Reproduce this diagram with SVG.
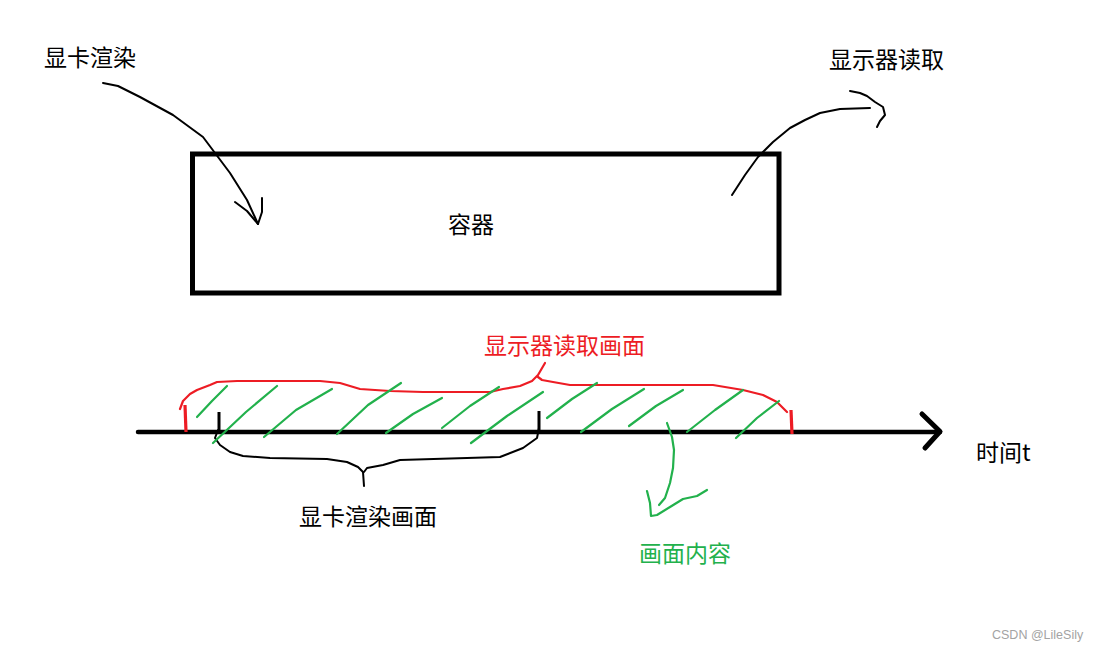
<svg xmlns="http://www.w3.org/2000/svg" width="1100" height="652" viewBox="0 0 1100 652">
  <style>
    .t { font-family: "Microsoft YaHei", "Noto Sans CJK SC", "Noto Sans", sans-serif; font-size: 23px; fill: #000; }
    .red { fill: #ed1c24; }
    .grn { fill: #22b14c; }
    .ink { fill: none; stroke: #000; stroke-width: 2; stroke-linecap: round; stroke-linejoin: round; }
    .rl { fill: none; stroke: #ed1c24; stroke-width: 2.2; stroke-linecap: round; stroke-linejoin: round; }
    .gl { fill: none; stroke: #22b14c; stroke-width: 2.2; stroke-linecap: round; stroke-linejoin: round; }
    .wm { font-family: "Liberation Sans", Arial, sans-serif; font-size: 12.5px; fill: #a3a3a3; }
  </style>
  <rect width="1100" height="652" fill="#fff"/>

  <g id="label-gpu">
    <text class="t" x="44" y="66">显卡渲染</text>
  </g>
  <g id="label-monitor">
    <text class="t" x="829" y="68">显示器读取</text>
  </g>
  <g id="container">
    <rect x="192.5" y="154" width="586.5" height="139" fill="none" stroke="#000" stroke-width="5"/>
    <text class="t" x="448" y="233">容器</text>
  </g>

  <g id="timeline">
    <path d="M138,432 L940,432" fill="none" stroke="#000" stroke-width="4.5" stroke-linecap="round"/>
    <path d="M922,414 L940,431.5 L925,448" fill="none" stroke="#000" stroke-width="5" stroke-linecap="round" stroke-linejoin="round"/>
    <path d="M219,412 L219,433" fill="none" stroke="#000" stroke-width="3"/>
    <path d="M539,411 L539,433" fill="none" stroke="#000" stroke-width="3"/>
    <text class="t" x="976" y="461">时间t</text>
  </g>

  <g id="monitor-read-brace">
    <path d="M185,405 L186,432" fill="none" stroke="#ed1c24" stroke-width="3.2"/>
    <path d="M791,410 L792,434" fill="none" stroke="#ed1c24" stroke-width="3.2"/>
    <path class="rl" d="M180,409 L183,401 L190,394 L197,390 L210,385 L217,382 L237,381 L320,381 L340,383 L360,389 L390,391 L423,392 L490,392 L503,389 L520,386 L532,381 L538,375 L545,363"/>
    <path class="rl" d="M538,377 L542,380 L553,382 L570,385 L713,385 L743,390 L763,395 L777,402 L787,412"/>
    <text class="t red" x="484" y="354">显示器读取画面</text>
  </g>

  <g id="gpu-render-brace">
    <path class="ink" d="M218,430 L215,438 L220,445 L230,452 L243,456 L270,458 L327,459 L347,462 L358,467 L363,472 L364,486"/>
    <path class="ink" d="M364,472 L367,468 L383,465 L400,460 L467,458 L500,457 L523,448 L537,438 L539,428"/>
    <text class="t" x="299" y="525">显卡渲染画面</text>
  </g>

  <g id="frame-content">
    <path class="gl" d="M197,417 L212,401 L227,386"/>
    <path class="gl" d="M213,443 L246,412 L277,386"/>
    <path class="gl" d="M264,437 L296,410 L332,389"/>
    <path class="gl" d="M337,434 L368,405 L401,383"/>
    <path class="gl" d="M386,433 L413,414 L442,398"/>
    <path class="gl" d="M442,428 L470,406 L499,387"/>
    <path class="gl" d="M471,443 L507,416 L543,392"/>
    <path class="gl" d="M547,418 L572,399 L597,383"/>
    <path class="gl" d="M581,432 L612,409 L644,389"/>
    <path class="gl" d="M629,426 L656,406 L683,390"/>
    <path class="gl" d="M687,432 L715,410 L743,390"/>
    <path class="gl" d="M736,438 L757,418 L779,401"/>
    <text class="t grn" x="639" y="562">画面内容</text>
  </g>

  <g id="connectors">
    <path class="ink" d="M103,83 L118,86 L140,97 L173,115 L203,137 L215,153 L230,173 L247,200 L258,224"/>
    <path class="ink" d="M235,202 L247,211 L258,224 L262,212 L262,198"/>
    <path class="ink" d="M732,195 L745,175 L758,157 L773,142 L790,128 L805,120 L820,113 L840,109 L870,108"/>
    <path class="ink" d="M850,91 L860,93 L867,96 L875,102 L883,107 L885,115 L880,121 L877,127"/>
    <path class="gl" d="M667,423 L672,437 L674,450 L673,468 L670,483 L665,498 L659,505"/>
    <path class="gl" d="M647,491 L650,503 L651,516 L657,515 L670,507 L683,499 L697,496 L707,490"/>
  </g>

  <text class="wm" x="992" y="639">CSDN @LileSily</text>
</svg>
